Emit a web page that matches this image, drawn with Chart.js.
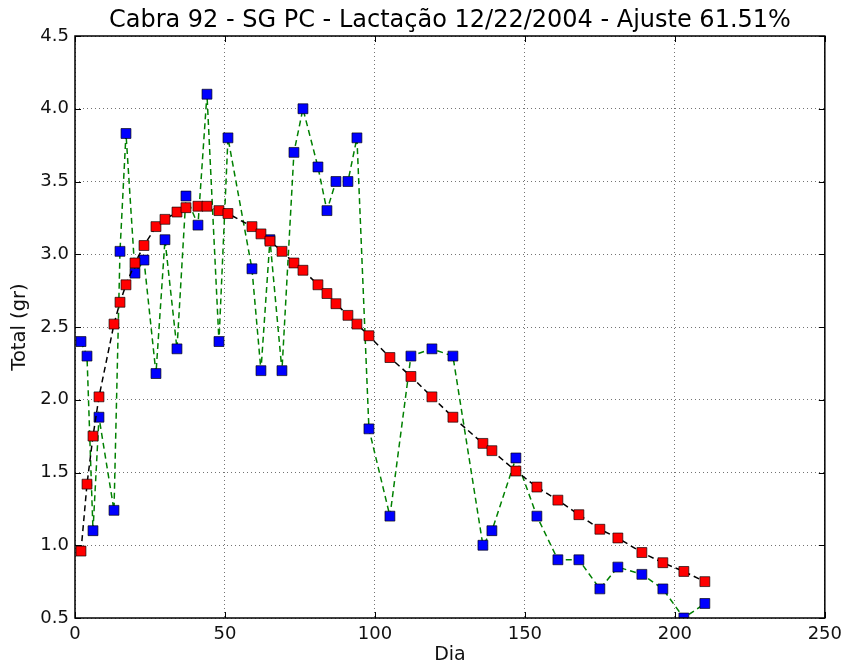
<!DOCTYPE html>
<html>
<head>
<meta charset="utf-8">
<script src="https://cdn.jsdelivr.net/npm/chart.js@4.4.0/dist/chart.umd.min.js"></script>
<style>
    body { margin: 0; background: #fff; }
    #wrap { width: 848px; height: 666px; }
</style>
</head>
<body>
<div id="wrap"><canvas id="lactChart" width="848" height="666"></canvas></div>
<script>
    const titulo = 'Cabra 92 - SG PC - Lactação 12/22/2004 - Ajuste 61.51%';
    const dias = [2, 4, 6, 8, 13, 15, 17, 20, 23, 27, 30, 34, 37, 41, 44, 48, 51, 59, 62, 65, 69, 73, 76,
        81, 84, 87, 91, 94, 98, 105, 112, 119, 126, 136, 139, 147, 154, 161, 168, 175, 181, 189, 196, 203, 210];
    const observado = [2.40, 2.30, 1.10, 1.88, 1.24, 3.02, 3.83, 2.87, 2.96, 2.18, 3.10, 2.35, 3.40, 3.20, 4.10,
        2.40, 3.80, 2.90, 2.20, 3.10, 2.20, 3.70, 4.00, 3.60, 3.30, 3.50, 3.50, 3.80, 1.80, 1.20, 2.30, 2.35,
        2.30, 1.00, 1.10, 1.60, 1.20, 0.90, 0.90, 0.70, 0.85, 0.80, 0.70, 0.50, 0.60];
    const ajuste = [0.96, 1.42, 1.75, 2.02, 2.52, 2.67, 2.79, 2.94, 3.06, 3.19, 3.24, 3.29, 3.32, 3.33, 3.33,
        3.30, 3.28, 3.19, 3.14, 3.09, 3.02, 2.94, 2.89, 2.79, 2.73, 2.66, 2.58, 2.52, 2.44, 2.29, 2.16, 2.02,
        1.88, 1.70, 1.65, 1.51, 1.40, 1.31, 1.21, 1.11, 1.05, 0.95, 0.88, 0.82, 0.75];
    const yTicks = [0.5, 1.0, 1.5, 2.0, 2.5, 3.0, 3.5, 4.0, 4.5];
    const xTicks = [0, 50, 100, 150, 200, 250];

    const FONT = 'DejaVu Sans, sans-serif';

    function pares(ys) {
        return dias.map((d, i) => ({ x: d, y: ys[i] }));
    }

    // frame, inward ticks on all four sides, title over the plot area
    const molduraPlugin = {
        id: 'moldura',
        afterDraw(chart) {
            const { ctx, chartArea: a, scales } = chart;
            const t = 6;
            ctx.save();
            ctx.strokeStyle = '#000';
            ctx.lineWidth = 1;
            ctx.beginPath();
            xTicks.forEach(v => {
                const px = Math.round(scales.x.getPixelForValue(v)) + 0.5;
                ctx.moveTo(px, a.bottom); ctx.lineTo(px, a.bottom - t);
                ctx.moveTo(px, a.top); ctx.lineTo(px, a.top + t);
            });
            yTicks.forEach(v => {
                const py = Math.round(scales.y.getPixelForValue(v)) + 0.5;
                ctx.moveTo(a.left, py); ctx.lineTo(a.left + t, py);
                ctx.moveTo(a.right, py); ctx.lineTo(a.right - t, py);
            });
            ctx.stroke();
            ctx.lineWidth = 1.5;
            ctx.strokeRect(a.left, a.top, a.right - a.left, a.bottom - a.top);
            ctx.fillStyle = '#000';
            ctx.font = '24px ' + FONT;
            ctx.textAlign = 'center';
            ctx.textBaseline = 'alphabetic';
            ctx.fillText(titulo, (a.left + a.right) / 2, 27);
            ctx.restore();
        }
    };

    const ctx = document.getElementById('lactChart').getContext('2d');
    const chart = new Chart(ctx, {
        type: 'line',
        data: {
            datasets: [{
                label: 'Ajuste',
                data: pares(ajuste),
                order: 0,
                borderColor: '#000',
                borderWidth: 1.5,
                borderDash: [6, 4],
                pointStyle: 'rect',
                pointRadius: 7,
                pointBackgroundColor: '#ff0000',
                pointBorderColor: 'rgba(0,0,0,0.65)',
                pointBorderWidth: 1,
                clip: 0
            }, {
                label: 'Observado',
                data: pares(observado),
                order: 1,
                borderColor: '#008000',
                borderWidth: 1.5,
                borderDash: [6, 4],
                pointStyle: 'rect',
                pointRadius: 7,
                pointBackgroundColor: '#0000ff',
                pointBorderColor: 'rgba(0,0,0,0.65)',
                pointBorderWidth: 1,
                clip: 0
            }]
        },
        options: {
            responsive: false,
            animation: false,
            layout: { padding: { top: 36, right: 22, left: 0, bottom: 0 } },
            plugins: {
                legend: { display: false },
                tooltip: { enabled: false }
            },
            scales: {
                x: {
                    type: 'linear',
                    min: 0,
                    max: 250,
                    afterBuildTicks: s => { s.ticks = xTicks.map(v => ({ value: v })); },
                    afterFit: s => { s.height = 48; },
                    grid: { color: 'rgba(0,0,0,0.55)', lineWidth: 1, drawTicks: false },
                    border: { display: false, dash: [1, 3] },
                    ticks: {
                        color: '#111',
                        padding: 6,
                        maxRotation: 0,
                        font: { family: FONT, size: 18 },
                        callback: v => String(v)
                    },
                    title: {
                        display: true,
                        text: 'Dia',
                        color: '#111',
                        font: { family: FONT, size: 19 },
                        padding: { top: 0, bottom: 0 }
                    }
                },
                y: {
                    min: 0.5,
                    max: 4.5,
                    afterBuildTicks: s => { s.ticks = yTicks.map(v => ({ value: v })); },
                    afterFit: s => { s.width = 75; },
                    grid: { color: 'rgba(0,0,0,0.55)', lineWidth: 1, drawTicks: false },
                    border: { display: false, dash: [1, 3] },
                    ticks: {
                        color: '#111',
                        padding: 6,
                        font: { family: FONT, size: 18 },
                        callback: v => v.toFixed(1)
                    },
                    title: {
                        display: true,
                        text: 'Total (gr)',
                        color: '#111',
                        font: { family: FONT, size: 19.5 },
                        padding: { top: 8, bottom: 0 }
                    }
                }
            }
        },
        plugins: [molduraPlugin]
    });
</script>
</body>
</html>
